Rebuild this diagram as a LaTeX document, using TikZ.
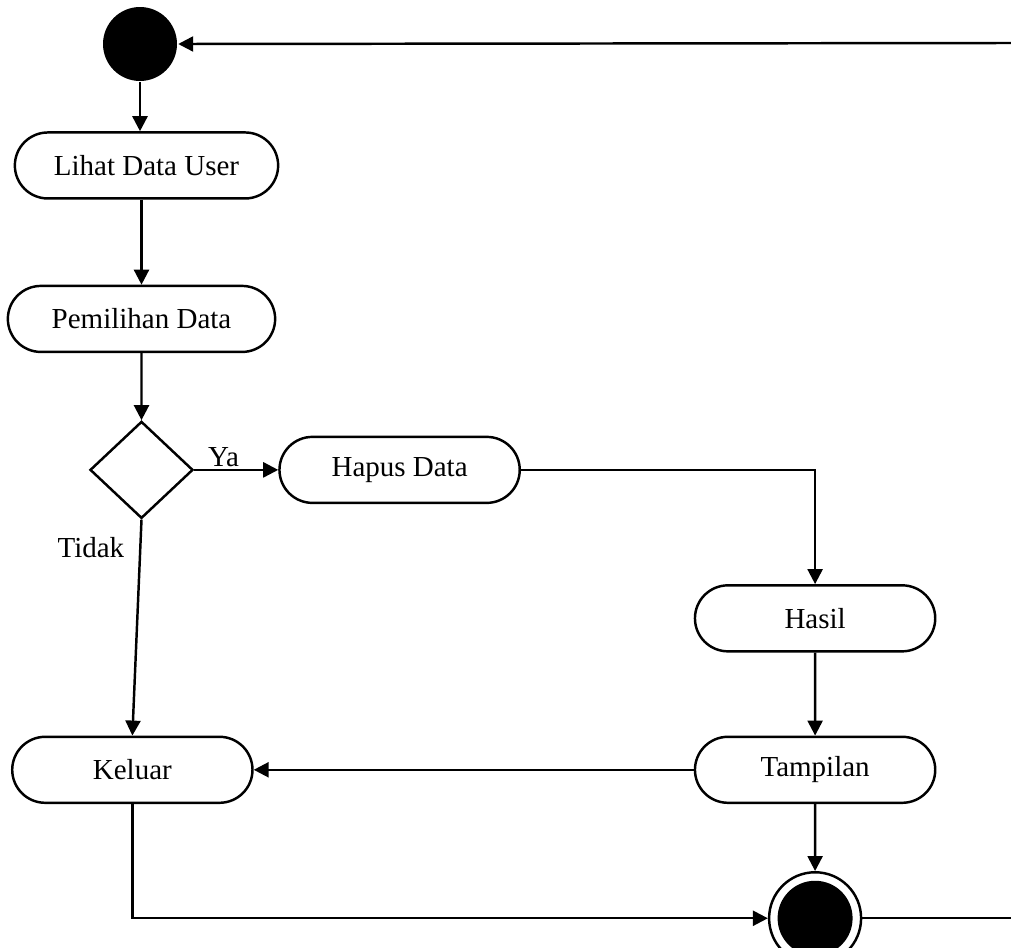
\documentclass[tikz,border=0pt]{standalone}
\usepackage{fontspec}
\setmainfont{Liberation Serif}
\usepackage{tikz}
\usetikzlibrary{shapes, shapes.geometric, shapes.misc, arrows.meta, positioning}

\begin{document}
\begin{tikzpicture}[auto, >={Triangle[length=0.3cm, width=0.3cm]}, line width=1.4pt,
    font=\fontsize{16.5}{19}\selectfont]
    % Styles
    \tikzstyle{activity} = [rounded rectangle, draw, fill=white, text centered, minimum width=5.04cm, minimum height=1.32cm]
    \tikzstyle{startnode} = [circle, fill=black, minimum size=1.48cm, inner sep=0pt]
    \tikzstyle{endnode} = [circle, draw, fill=white, minimum size=1.84cm, inner sep=0pt,
        path picture={\fill[black] (path picture bounding box.center) circle (0.75cm);}]
    \tikzstyle{decision} = [diamond, draw, minimum width=2.06cm, minimum height=1.94cm, inner sep=0pt]

    \useasboundingbox (0,0) rectangle (20.22,-18.96);

    % Nodes
    \node [startnode] (start) at (2.8,-0.88) {};
    \node [activity, below=0.98cm of start, xshift=0.13cm, minimum width=5.5cm] (lihat) {Lihat Data User};
    \node [activity, below=1.7cm of lihat, xshift=-0.1cm, minimum width=5.58cm] (pilih) {Pemilihan Data};
    \node [decision, below=1.34cm of pilih] (cek) {};
    \node [activity, right=1.68cm of cek] (hapus) {Hapus Data};
    \node [activity, below=1.6cm of hapus, xshift=8.31cm] (hasil) {Hasil};
    \node [activity, below=1.66cm of hasil] (tampil) {Tampilan};
    \node [activity, left=8.8cm of tampil] (keluar) {Keluar};
    \node [endnode, below=1.34cm of tampil] (selesai) {};
    \coordinate (kembali) at (20.22,-0.86);
    \coordinate (lanjut) at (selesai.east -| kembali);

    % Connections
    \draw[->] (start) -- (start |- lihat.north);
    \draw[->] (lihat.south -| pilih) -- (pilih.north);
    \draw[->] (pilih) -- (cek);
    \draw[->] (cek.east) -- (hapus.west) node[pos=0.35, above, inner sep=1pt] {Ya};
    \draw[->] (hapus.east) -| (hasil.north);
    \draw[->] (hasil) -- (tampil);
    \draw[->] (tampil.west) -- (keluar.east);
    \draw[->] (cek.south) -- (keluar.north) node[pos=0.13, left=0.18cm] {Tidak};
    \draw[->] (tampil) -- (selesai);
    \draw[->] (keluar.south) |- (selesai.west);
    \draw (selesai.east) -- (lanjut);
    \draw[->] (kembali) -- (start.east);

\end{tikzpicture}
\end{document}
